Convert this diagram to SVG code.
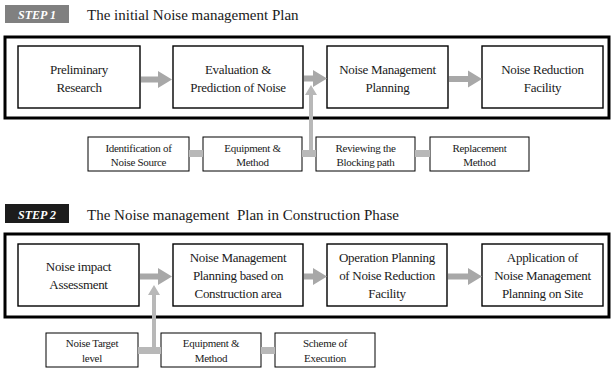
<svg xmlns="http://www.w3.org/2000/svg" width="612" height="369" viewBox="0 0 612 369">
<style>
  .frame{fill:none;stroke:#000;stroke-width:3}
  .box{fill:#fff;stroke:#000;stroke-width:1.4}
  .sbox{fill:#fff;stroke:#000;stroke-width:1}
  text{font-family:'Liberation Serif','DejaVu Serif',serif}
  .t{fill:#1a1a1a;text-anchor:middle}
  .bt{font-size:13px;letter-spacing:-0.3px}
  .st{font-size:11px;letter-spacing:-0.3px}
  .title{font-size:15px;fill:#1a1a1a}
  .badge-t{font-size:12px;font-weight:bold;font-style:italic;fill:#fff;text-anchor:middle}
  .arrow{fill:#a8a8a8}
  .conn{fill:#b8b8b8}
</style>
<rect width="612" height="369" fill="#fff"/>

<g id="step1-header">
  <rect x="5" y="5" width="64" height="18" fill="#808080"/>
  <text class="badge-t" x="37" y="19">STEP 1</text>
  <text class="title" x="87" y="20">The initial Noise management Plan</text>
</g>
<g id="step1-frame"><rect class="frame" x="5" y="37" width="604" height="81"/></g>

<g id="s1-preliminary">
  <rect class="box" x="18" y="46" width="122" height="62"/>
  <text class="t bt" x="79" y="74">Preliminary</text>
  <text class="t bt" x="79" y="92">Research</text>
</g>
<g id="s1-evaluation">
  <rect class="box" x="173" y="46" width="130" height="62"/>
  <text class="t bt" x="238" y="74">Evaluation &amp;</text>
  <text class="t bt" x="238" y="92">Prediction of Noise</text>
</g>
<g id="s1-planning">
  <rect class="box" x="327" y="46" width="121" height="62"/>
  <text class="t bt" x="387.5" y="74">Noise Management</text>
  <text class="t bt" x="387.5" y="92">Planning</text>
</g>
<g id="s1-facility">
  <rect class="box" x="482" y="46" width="121" height="62"/>
  <text class="t bt" x="542.5" y="74">Noise Reduction</text>
  <text class="t bt" x="542.5" y="92">Facility</text>
</g>

<g id="s1-identification">
  <rect class="sbox" x="88" y="137" width="101" height="34"/>
  <text class="t st" x="138.5" y="151.5">Identification of</text>
  <text class="t st" x="138.5" y="165.5">Noise Source</text>
</g>
<g id="s1-equipment">
  <rect class="sbox" x="203" y="137" width="99" height="34"/>
  <text class="t st" x="252.5" y="151.5">Equipment &amp;</text>
  <text class="t st" x="252.5" y="165.5">Method</text>
</g>
<g id="s1-reviewing">
  <rect class="sbox" x="316" y="137" width="99" height="34"/>
  <text class="t st" x="365.5" y="151.5">Reviewing the</text>
  <text class="t st" x="365.5" y="165.5">Blocking path</text>
</g>
<g id="s1-replacement">
  <rect class="sbox" x="430" y="137" width="99" height="34"/>
  <text class="t st" x="479.5" y="151.5">Replacement</text>
  <text class="t st" x="479.5" y="165.5">Method</text>
</g>

<g id="step2-header">
  <rect x="5" y="204" width="64" height="19" fill="#1c1c1c"/>
  <text class="badge-t" x="37" y="218.5">STEP 2</text>
  <text class="title" x="87" y="220" xml:space="preserve">The Noise management  Plan in Construction Phase</text>
</g>
<g id="step2-frame"><rect class="frame" x="5" y="234" width="604" height="83"/></g>

<g id="s2-impact">
  <rect class="box" x="18" y="244" width="121" height="62"/>
  <text class="t bt" x="78.5" y="271">Noise impact</text>
  <text class="t bt" x="78.5" y="289">Assessment</text>
</g>
<g id="s2-planning">
  <rect class="box" x="173" y="244" width="130" height="62"/>
  <text class="t bt" x="238" y="262">Noise Management</text>
  <text class="t bt" x="238" y="280">Planning based on</text>
  <text class="t bt" x="238" y="298">Construction area</text>
</g>
<g id="s2-operation">
  <rect class="box" x="327" y="244" width="120" height="62"/>
  <text class="t bt" x="387" y="262">Operation Planning</text>
  <text class="t bt" x="387" y="280">of Noise Reduction</text>
  <text class="t bt" x="387" y="298">Facility</text>
</g>
<g id="s2-application">
  <rect class="box" x="482" y="244" width="121" height="62"/>
  <text class="t bt" x="542.5" y="262">Application of</text>
  <text class="t bt" x="542.5" y="280">Noise Management</text>
  <text class="t bt" x="542.5" y="298">Planning on Site</text>
</g>

<g id="s2-target">
  <rect class="sbox" x="46" y="333" width="92" height="34"/>
  <text class="t st" x="92" y="347">Noise Target</text>
  <text class="t st" x="92" y="361.5">level</text>
</g>
<g id="s2-equipment">
  <rect class="sbox" x="161" y="333" width="100" height="34"/>
  <text class="t st" x="211" y="347">Equipment &amp;</text>
  <text class="t st" x="211" y="361.5">Method</text>
</g>
<g id="s2-scheme">
  <rect class="sbox" x="275" y="333" width="100" height="34"/>
  <text class="t st" x="325" y="347">Scheme of</text>
  <text class="t st" x="325" y="361.5">Execution</text>
</g>

<g id="connectors">
  <polygon class="arrow" points="141,76.5 158,76.5 158,71 172,79.5 158,88 158,82.5 141,82.5"/>
  <polygon class="arrow" points="304,75.5 313,75.5 313,70 327,78.5 313,87 313,81.5 304,81.5"/>
  <polygon class="arrow" points="449,76 468,76 468,70.5 482,79 468,87.5 468,82 449,82"/>
  <rect class="conn" x="189" y="150" width="14" height="7"/>
  <rect class="conn" x="302" y="150" width="14" height="7"/>
  <rect class="conn" x="415" y="150" width="15" height="7"/>
  <polygon class="conn" points="309,153 309,95 305,95 311,85 317,95 313,95 313,153"/>
  <polygon class="arrow" points="140,273.5 158,273.5 158,268 172,276.5 158,285 158,279.5 140,279.5"/>
  <polygon class="arrow" points="304,273.5 313,273.5 313,268 327,276.5 313,285 313,279.5 304,279.5"/>
  <polygon class="arrow" points="448,273.5 468,273.5 468,268 482,276.5 468,285 468,279.5 448,279.5"/>
  <rect class="conn" x="138" y="347" width="23" height="7"/>
  <rect class="conn" x="261" y="347" width="14" height="7"/>
  <polygon class="conn" points="152,350 152,295 148,295 154,285 160,295 156,295 156,350"/>
</g>
</svg>
